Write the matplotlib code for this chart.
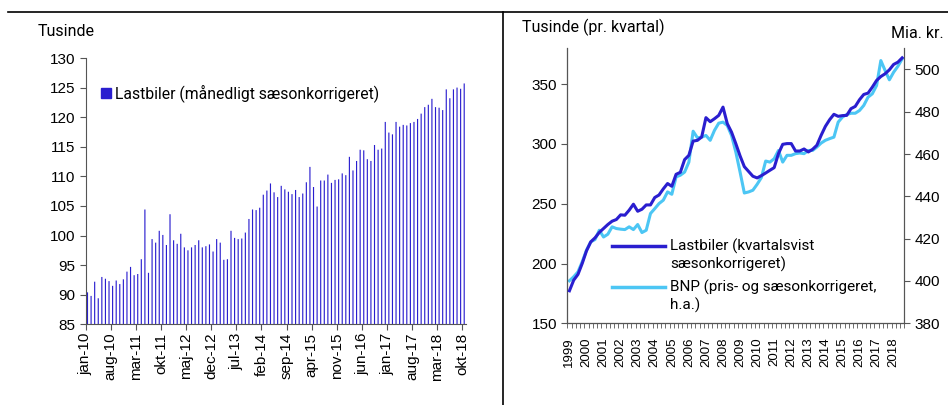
import numpy as np
import matplotlib
matplotlib.use('Agg')
from matplotlib import pyplot as plt
from matplotlib.lines import Line2D
from matplotlib.patches import Patch

plt.rcParams['font.family'] = ['Liberation Sans', 'DejaVu Sans']

# left panel: monthly trucks, jan-10 .. okt-18
monthly = [90.4, 89.8, 92.2, 89.4, 93.0, 92.7, 92.3, 91.5, 92.4, 91.8, 92.6, 93.9,
           94.7, 93.3, 93.5, 96.0, 104.4, 93.7, 99.4, 98.8, 100.8, 100.1, 98.4, 103.6,
           99.2, 98.6, 100.3, 98.0, 97.5, 98.0, 98.4, 99.2, 98.0, 98.2, 98.5, 97.3,
           99.4, 98.8, 95.9, 96.0, 100.8, 99.6, 99.4, 99.5, 100.5, 102.8, 104.4, 104.3,
           104.7, 106.9, 107.6, 108.8, 107.3, 106.5, 108.4, 107.8, 107.4, 107.0, 107.7, 106.5,
           107.1, 109.0, 111.6, 108.2, 104.9, 109.3, 109.3, 110.3, 108.9, 109.4, 109.5, 110.5,
           110.2, 113.3, 111.0, 112.6, 114.5, 114.4, 112.9, 112.6, 115.3, 114.5, 114.7, 119.2,
           117.4, 117.1, 119.2, 118.4, 118.7, 118.6, 119.0, 119.2, 119.7, 120.6, 121.7, 122.1,
           123.1, 121.7, 121.6, 121.2, 124.7, 123.2, 124.7, 125.0, 124.8, 125.7]
month_ticks = ['jan-10', 'aug-10', 'mar-11', 'okt-11', 'maj-12', 'dec-12', 'jul-13', 'feb-14',
               'sep-14', 'apr-15', 'nov-15', 'jun-16', 'jan-17', 'aug-17', 'mar-18', 'okt-18']

# right panel: quarterly, 1999Q1 .. 2018Q3
trucks_q = [177.2, 186.1, 190.9, 200.1, 210.6, 218.1, 221.5, 226.0, 229.3, 232.6,
            235.4, 236.8, 240.7, 240.4, 244.6, 249.6, 243.7, 245.4, 249.0, 249.0,
            255.2, 257.3, 262.4, 266.9, 264.6, 274.6, 276.3, 286.9, 290.5, 302.4,
            303.0, 305.8, 322.0, 318.6, 321.1, 323.9, 330.8, 317.0, 309.9, 300.3,
            290.0, 281.0, 277.0, 273.0, 271.6, 273.5, 275.7, 278.0, 280.2, 291.9,
            299.7, 300.3, 300.3, 294.1, 294.1, 295.8, 293.3, 295.5, 298.9, 307.2,
            314.7, 320.3, 324.8, 323.1, 323.7, 323.9, 329.5, 331.4, 337.0, 341.4,
            342.5, 347.5, 353.1, 356.4, 358.7, 362.0, 366.5, 368.4, 372.0]
gdp_q = [400.1, 402.0, 404.3, 409.1, 414.6, 418.5, 419.6, 424.0, 420.8, 422.1,
         425.6, 424.8, 424.5, 424.3, 425.6, 424.3, 426.7, 422.9, 424.0, 431.9,
         434.2, 436.6, 438.2, 442.1, 441.0, 449.2, 450.0, 451.5, 456.2, 470.8,
         467.7, 468.0, 468.8, 466.5, 471.2, 474.6, 475.1, 473.5, 468.8, 461.0,
         451.5, 441.6, 442.1, 442.9, 445.7, 448.9, 456.7, 456.2, 457.8, 461.7,
         456.2, 459.4, 459.4, 460.2, 460.5, 460.2, 461.7, 461.7, 463.3, 465.2,
         466.5, 467.3, 468.0, 475.1, 477.5, 478.7, 479.3, 479.3, 480.6, 483.0,
         486.9, 488.5, 492.4, 504.2, 499.5, 495.1, 498.7, 501.5, 505.0]
years = [str(y) for y in range(1999, 2019)]

dark = '#2a1ecf'
light = '#4cc6f4'
spine_c = '#555555'
title_font = ['Roboto', 'DejaVu Sans']

fig = plt.figure(figsize=(9.48, 4.05), dpi=100)

# ---- left panel
ax = fig.add_axes([85.7/948, 1-324.3/405, 380.3/948, 266.3/405])
x = np.arange(len(monthly))
ax.bar(x, monthly, width=0.32, color=dark, linewidth=0, snap=False)
ax.set_ylim(85, 130)
ax.set_yticks(np.arange(85, 131, 5))
ax.set_xlim(-0.5, len(monthly) - 0.5)
ax.set_xticks(np.arange(0, len(monthly), 7) - 0.5)
ax.set_xticklabels(month_ticks, rotation=90)
for s in ['top', 'right']:
    ax.spines[s].set_visible(False)
for s in ['left', 'bottom']:
    ax.spines[s].set_color(spine_c)
ax.tick_params(axis='both', direction='out', length=4, color=spine_c, labelsize=11)
ax.tick_params(axis='x', pad=2)
ax.legend(handles=[Patch(color=dark)], labels=['Lastbiler (månedligt sæsonkorrigeret)'],
          loc='center left', bbox_to_anchor=(95/948, 1-93/405), bbox_transform=fig.transFigure,
          frameon=False, handlelength=0.6, handleheight=0.6, handletextpad=0.25,
          borderaxespad=0, prop={'family': title_font, 'size': 11.3})

# ---- right panel
ax2 = fig.add_axes([567.3/948, 1-323.3/405, 337/948, 275/405])
q = np.arange(len(trucks_q))
ax2.plot(q, trucks_q, color=dark, lw=2.2, zorder=3)
ax2.set_ylim(150, 380)
ax2.set_yticks([150, 200, 250, 300, 350])
ax2.set_xlim(-0.5, len(trucks_q) - 0.5)
ax2.set_xticks(np.arange(0, len(trucks_q), 4))
ax2.set_xticklabels(years, rotation=90)
ax2.set_xticks(np.arange(len(trucks_q) + 1) - 0.5, minor=True)
ax2.tick_params(axis='x', which='major', length=0, pad=10, labelsize=9.5)
ax2.tick_params(axis='x', which='minor', length=3.5, color=spine_c)
ax2.tick_params(axis='y', direction='out', length=4, color=spine_c, labelsize=11)
ax2.spines['top'].set_visible(False)
for s in ['left', 'bottom', 'right']:
    ax2.spines[s].set_color(spine_c)

ax3 = ax2.twinx()
ax3.plot(q, gdp_q, color=light, lw=2.2, zorder=2)
ax3.set_ylim(380, 510)
ax3.set_yticks(np.arange(380, 501, 20))
ax3.spines['top'].set_visible(False)
ax3.spines['right'].set_color(spine_c)
ax3.tick_params(axis='y', direction='out', length=4, color=spine_c, labelsize=11)
ax2.set_zorder(ax3.get_zorder() + 1)
ax2.patch.set_visible(False)

# legend of the right panel, handle aligned with the first text line
entries = [(dark, 'Lastbiler (kvartalsvist\nsæsonkorrigeret)', 245.7),
           (light, 'BNP (pris- og sæsonkorrigeret,\nh.a.)', 286.7)]
for col, label, ypix in entries:
    fig.add_artist(Line2D([612/948, 665/948], [1-ypix/405, 1-ypix/405], color=col, lw=2.5,
                          transform=fig.transFigure))
    fig.text(670/948, 1-(ypix+9.7)/405, label, fontsize=11, family=title_font,
             va='center', linespacing=1.25)

# titles / units
fig.text(38/948, 1-36.5/405, 'Tusinde', fontsize=11.5, family=title_font, va='baseline')
fig.text(521.7/948, 1-32/405, 'Tusinde (pr. kvartal)', fontsize=11.5, family=title_font, va='baseline')
fig.text(891/948, 1-38/405, 'Mia. kr.', fontsize=11.5, family=title_font, va='baseline')

# frame lines
fig.add_artist(Line2D([8/948, 1], [1-12/405, 1-12/405], color='black', lw=1.2, transform=fig.transFigure))
fig.add_artist(Line2D([503/948, 503/948], [0, 1-12/405], color='black', lw=1.2, transform=fig.transFigure))

fig.savefig('out.png', dpi=100)
